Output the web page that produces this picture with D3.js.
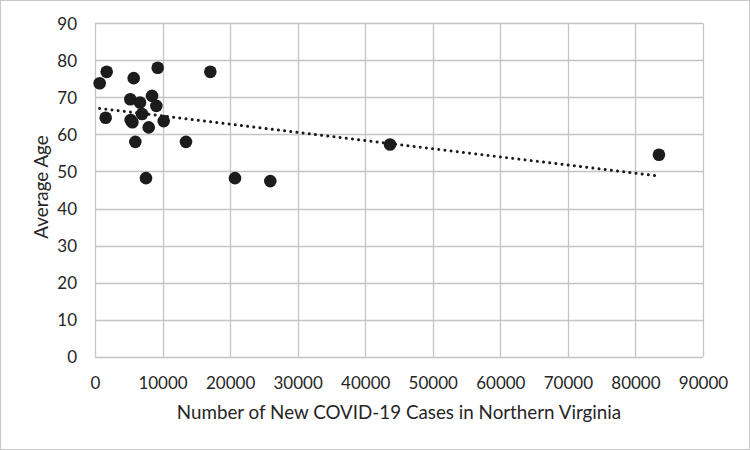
<!DOCTYPE html>
<html>
<head>
<meta charset="utf-8">
<script src="https://cdn.jsdelivr.net/npm/d3@7"></script>
<style>
  html, body { margin: 0; padding: 0; background: #fff; }
  svg { display: block; }
  text { font-family: Lato, "Open Sans", sans-serif; fill: #262626; }
</style>
</head>
<body>
<svg id="chart" width="750" height="450"></svg>
<script>
// Data
const cases = [690, 1730, 1580, 5730, 9280, 17070, 5230, 6660, 8440, 9080, 5280, 5530, 6960, 7950, 10170, 5970, 13470, 7550, 20720, 25950, 43670, 83480];
const avgAge = [73.8, 76.9, 64.5, 75.2, 78.0, 76.9, 69.5, 68.6, 70.4, 67.7, 63.9, 63.3, 65.5, 61.9, 63.6, 58.0, 58.0, 48.2, 48.2, 47.4, 57.3, 54.5];
const xTicks = [0, 10000, 20000, 30000, 40000, 50000, 60000, 70000, 80000, 90000];
const yTicks = [0, 10, 20, 30, 40, 50, 60, 70, 80, 90];
const xTitle = "Number of New COVID-19 Cases in Northern Virginia";
const yTitle = "Average Age";

const W = 750, H = 450;
const m = { left: 95, right: 47, top: 23.3, bottom: 93.3 };
const svg = d3.select("#chart");

// outer border
svg.append("rect").attr("x", 0.5).attr("y", 0.5).attr("width", W - 1).attr("height", H - 1)
  .attr("fill", "#fff").attr("stroke", "#c8c8c8");

const x = d3.scaleLinear().domain([0, 90000]).range([m.left, W - m.right]);
const y = d3.scaleLinear().domain([0, 90]).range([H - m.bottom, m.top]);

const g = svg.append("g");
// gridlines
g.selectAll(".vg").data(xTicks).join("line")
  .attr("x1", d => Math.round(x(d)) + 0.5).attr("x2", d => Math.round(x(d)) + 0.5)
  .attr("y1", y(90)).attr("y2", y(0))
  .attr("stroke", "#c4c4c4").attr("stroke-width", 1.3);
g.selectAll(".hg").data(yTicks).join("line")
  .attr("y1", d => Math.round(y(d)) + 0.5).attr("y2", d => Math.round(y(d)) + 0.5)
  .attr("x1", x(0)).attr("x2", x(90000))
  .attr("stroke", "#c4c4c4").attr("stroke-width", 1.3);

// axes (labels only)
const xAxis = d3.axisBottom(x).tickValues(xTicks).tickSize(0).tickPadding(0).tickFormat(d3.format("d"));
const ya = d3.axisLeft(y).tickValues(yTicks).tickSize(0).tickFormat(d3.format("d"));

const gx = svg.append("g").attr("transform", `translate(0,${H - m.bottom + 17})`).call(xAxis);
gx.select(".domain").remove();
gx.selectAll("text").attr("font-size", 17).attr("fill", "#262626")
  .attr("font-family", "Lato, 'Open Sans', sans-serif").attr("dy", "0.9em");

const gy = svg.append("g").attr("transform", `translate(${m.left - 18},0)`).call(ya);
gy.select(".domain").remove();
gy.selectAll("text").attr("font-size", 17).attr("fill", "#262626")
  .attr("font-family", "Lato, 'Open Sans', sans-serif").attr("text-anchor", "end").attr("dy", "0.35em").attr("x", 0);

// titles
svg.append("text").attr("x", (x(0) + x(90000)) / 2).attr("y", 419)
  .attr("text-anchor", "middle").attr("font-size", 18.8).text(xTitle);
svg.append("text").attr("transform", `translate(48,${(y(0) + y(90)) / 2 - 3}) rotate(-90)`)
  .attr("text-anchor", "middle").attr("font-size", 18.8).text(yTitle);

// trendline (least squares from data)
const n = cases.length;
const mx = d3.mean(cases), my = d3.mean(avgAge);
let sxy = 0, sxx = 0;
for (let i = 0; i < n; i++) { sxy += (cases[i] - mx) * (avgAge[i] - my); sxx += (cases[i] - mx) ** 2; }
const slope = sxy / sxx, icpt = my - slope * mx;
const x0 = d3.min(cases), x1 = d3.max(cases);
svg.append("line")
  .attr("x1", x(x0)).attr("y1", y(icpt + slope * x0))
  .attr("x2", x(x1)).attr("y2", y(icpt + slope * x1))
  .attr("stroke", "#1a1a1a").attr("stroke-width", 3)
  .attr("stroke-linecap", "round").attr("stroke-dasharray", "0.01 6.2");

// points
const pts = cases.map((c, i) => ({ c, a: avgAge[i] }));
svg.selectAll(".pt").data(pts).join("circle")
  .attr("cx", d => x(d.c)).attr("cy", d => y(d.a)).attr("r", 6.3)
  .attr("fill", "#1c1c1c");
</script>
</body>
</html>
